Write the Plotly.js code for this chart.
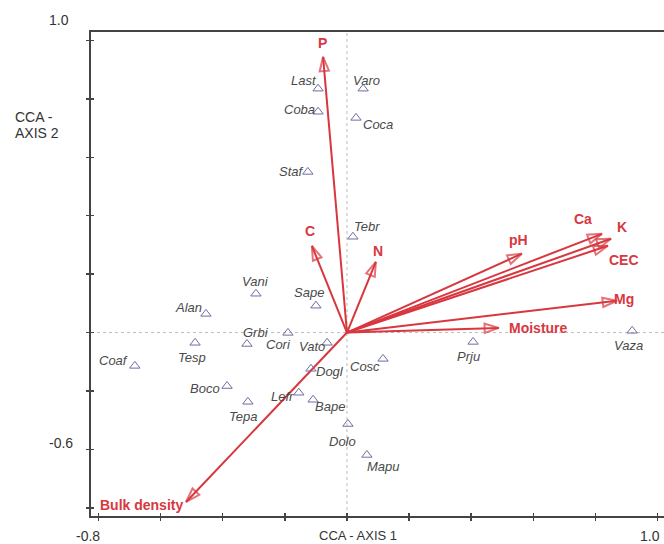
<!DOCTYPE html>
<html>
<head>
<meta charset="utf-8">
<script src="https://cdn.plot.ly/plotly-3.0.1.min.js"></script>
<style>
  html, body { margin: 0; padding: 0; background: #fff; overflow: hidden; width: 664px; height: 544px; }
  #chart { width: 680px; height: 544px; }
</style>
</head>
<body>
<div id="chart"></div>
<script>
// ---- Data: species scores (CCA axis 1, axis 2) ----
const species = ['Last','Varo','Coba','Coca','Staf','Tebr','Vani','Sape','Alan','Grbi','Cori','Tesp',
                 'Vato','Coaf','Dogl','Cosc','Prju','Vaza','Boco','Tepa','Lefr','Bape','Dolo','Mapu'];
const speciesX = [-0.093, 0.052, -0.093, 0.029, -0.126, 0.019, -0.293, -0.100, -0.454, -0.322, -0.190, -0.489,
                  -0.064, -0.683, -0.116, 0.116, 0.406, 0.918, -0.386, -0.319, -0.155, -0.109, 0.003, 0.064];
const speciesY = [0.835, 0.835, 0.756, 0.735, 0.550, 0.328, 0.133, 0.092, 0.064, -0.039, -0.001, -0.035,
                  -0.035, -0.114, -0.124, -0.090, -0.032, 0.006, -0.183, -0.237, -0.206, -0.230, -0.313, -0.419];

// ---- Data: environmental variable biplot arrows (tips) ----
const envVars = ['P','C','N','pH','Ca','K','CEC','Mg','Moisture','Bulk density'];
const envX = [-0.077, -0.113, 0.093, 0.563, 0.821, 0.850, 0.840, 0.869, 0.489, -0.518];
const envY = [0.944, 0.297, 0.242, 0.270, 0.338, 0.321, 0.297, 0.109, 0.016, -0.580];

// ---- Axis end labels ----
const xEndLabels = ['-0.8', '1.0'];
const xEndValues = [-0.8, 1.0];
const yEndLabels = ['1.0', '-0.6'];
const yEndValues = [1.0, -0.6];

// ---- Styles / label offsets (pixels) ----
const speciesLabelOffset = {
  Last:[-14,-8], Varo:[3,-8], Coba:[-19,-2], Coca:[22,7], Staf:[-16,0], Tebr:[14,-10],
  Vani:[0,-12], Sape:[-7,-13], Alan:[-17,-6], Grbi:[9,-11], Cori:[-9,12], Tesp:[-3,15],
  Vato:[-15,4], Coaf:[-21,-5], Dogl:[19,3], Cosc:[-18,8], Prju:[-5,15], Vaza:[-4,15],
  Boco:[-22,2], Tepa:[-5,15], Lefr:[-16,4], Bape:[17,7], Dolo:[-5,18], Mapu:[17,12]
};
const envLabelOffset = {
  'P':[-1,-14], 'C':[-2,-15], 'N':[2,-11], 'pH':[-3,-14], 'Ca':[-19,-15], 'K':[11,-12],
  'CEC':[16,14], 'Mg':[7,-2], 'Moisture':[40,0], 'Bulk density':[-45,3]
};
const RED = '#d8373f';
const FONT = 'Liberation Sans, Arial, sans-serif';

// Build arrow trace: origin -> tip, separated by gaps
const ax = [], ay = [], asz = [], asym = [];
envVars.forEach((v, i) => {
  ax.push(0, envX[i], null);
  ay.push(0, envY[i], null);
  asz.push(0, 15, 0);
  asym.push('circle', 'arrow-open', 'circle');
});

const traces = [
  {
    type: 'scatter', mode: 'lines+markers', x: ax, y: ay,
    line: { color: RED, width: 2 },
    marker: { symbol: asym, size: asz, color: RED, angleref: 'previous', line: { color: RED, width: 2 } },
    hoverinfo: 'skip', showlegend: false, cliponaxis: false
  },
  {
    type: 'scatter', mode: 'markers', x: speciesX, y: speciesY, text: species,
    marker: { symbol: 'triangle-up-open', size: 9, color: '#6e6ea0', line: { width: 1, color: '#6e6ea0' } },
    hoverinfo: 'text', showlegend: false, cliponaxis: false
  },
  { type: 'scatter', x: [null], y: [null], xaxis: 'x2', yaxis: 'y2', showlegend: false, hoverinfo: 'skip' }
];

const annotations = [];
species.forEach((s, i) => {
  const o = speciesLabelOffset[s];
  annotations.push({ x: speciesX[i], y: speciesY[i], xref: 'x', yref: 'y', text: s, showarrow: false,
    xshift: o[0], yshift: -o[1], font: { family: FONT, size: 13, color: '#4a4a4a', style: 'italic' } });
});
envVars.forEach((v, i) => {
  const o = envLabelOffset[v];
  annotations.push({ x: envX[i], y: envY[i], xref: 'x', yref: 'y', text: '<b>' + v + '</b>', showarrow: false,
    xshift: o[0], yshift: -o[1], font: { family: FONT, size: 14, color: RED } });
});
const axisFont = { family: FONT, size: 14, color: '#333' };
xEndLabels.forEach((t, i) => {
  annotations.push({ x: xEndValues[i], y: 0, xref: 'x', yref: 'paper', text: t, showarrow: false,
    yanchor: 'top', yshift: -10, xshift: i === 0 ? -10 : -8, font: axisFont });
});
yEndLabels.forEach((t, i) => {
  annotations.push({ x: 0, y: yEndValues[i], xref: 'paper', yref: 'y', text: t, showarrow: false,
    xanchor: 'right', xshift: i === 0 ? -20 : -16, yshift: i === 0 ? 20 : 65, font: axisFont });
});
annotations.push({ x: 0, y: 0, xref: 'x', yref: 'paper', text: 'CCA - AXIS 1', showarrow: false,
  yanchor: 'top', yshift: -10, xshift: 11, font: { family: FONT, size: 13, color: '#333' } });
annotations.push({ x: 0, y: 0.845, xref: 'paper', yref: 'paper', text: 'CCA -', showarrow: false,
  xanchor: 'left', xshift: -78, font: axisFont });
annotations.push({ x: 0, y: 0.812, xref: 'paper', yref: 'paper', text: 'AXIS 2', showarrow: false,
  xanchor: 'left', xshift: -78, font: axisFont });

const xRange = [-0.824, 1.072];
const yRange = [-0.628, 1.029];

const layout = {
  width: 680, height: 544,
  margin: { l: 91, r: 0, t: 32, b: 28, pad: 0 },
  paper_bgcolor: '#fff', plot_bgcolor: '#fff',
  font: { family: FONT, color: '#333' },
  xaxis: {
    range: xRange, tick0: 0, dtick: 0.2, showticklabels: false, showgrid: false, zeroline: false,
    showline: true, mirror: true, linecolor: '#444', linewidth: 2,
    ticks: 'outside', ticklen: 3, tickwidth: 1.5, tickcolor: '#444'
  },
  yaxis: {
    range: yRange, tick0: 0, dtick: 0.2, showticklabels: false, showgrid: false, zeroline: false,
    showline: true, mirror: false, linecolor: '#444', linewidth: 2,
    ticks: 'outside', ticklen: 3, tickwidth: 1.5, tickcolor: '#444'
  },
  xaxis2: {
    overlaying: 'x', anchor: 'y', side: 'bottom', range: xRange, tick0: 0, dtick: 0.2,
    showticklabels: false, showgrid: false, zeroline: false, showline: false,
    ticks: 'inside', ticklen: 3, tickwidth: 1.5, tickcolor: '#444'
  },
  yaxis2: {
    overlaying: 'y', anchor: 'x', side: 'left', range: yRange, tick0: 0, dtick: 0.2,
    showticklabels: false, showgrid: false, zeroline: false, showline: false,
    ticks: 'inside', ticklen: 3, tickwidth: 1.5, tickcolor: '#444'
  },
  shapes: [
    { type: 'line', xref: 'x', yref: 'paper', x0: 0, x1: 0, y0: 0, y1: 1, layer: 'below',
      line: { color: '#bdbdbd', width: 1, dash: 'dot' } },
    { type: 'line', xref: 'paper', yref: 'y', x0: 0, x1: 1, y0: 0, y1: 0, layer: 'below',
      line: { color: '#bdbdbd', width: 1, dash: 'dot' } }
  ],
  annotations: annotations,
  showlegend: false
};

Plotly.newPlot('chart', traces, layout, { displayModeBar: false, staticPlot: true });
</script>
</body>
</html>
